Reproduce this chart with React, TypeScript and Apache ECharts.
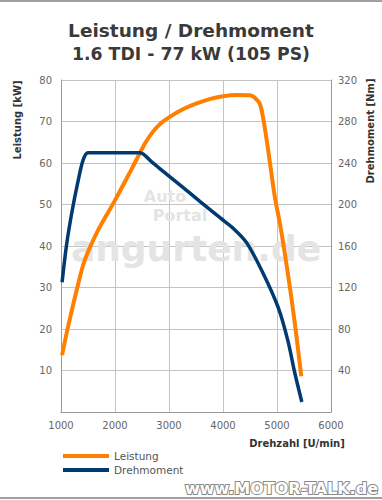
import React, { useEffect, useRef } from "react";
import * as echarts from "echarts";

const rpmTicks = [1000, 2000, 3000, 4000, 5000, 6000];
const kwTicks = [0, 10, 20, 30, 40, 50, 60, 70, 80];
const nmTicks = [0, 40, 80, 120, 160, 200, 240, 280, 320];

const leistungRpm = [1020, 1130, 1300, 1440, 1690, 2000, 2310, 2560, 2700, 2850, 3000, 3250, 3500, 3750, 4000, 4250, 4500, 4600, 4690, 4780, 4870, 4960, 5060, 5200, 5330, 5450];
const leistungKw = [13.7, 20.5, 29.9, 36.6, 43.9, 51, 58.6, 64.8, 67.5, 69.6, 71, 72.9, 74.3, 75.4, 76.1, 76.4, 76.3, 75.6, 74, 68, 60, 51.8, 45, 33.5, 21.4, 8.6];

const drehRpm = [1020, 1100, 1200, 1310, 1410, 1500, 2000, 2460, 2680, 2960, 3270, 3570, 3950, 4190, 4440, 4740, 5020, 5200, 5330, 5460];
const drehNm = [125, 160, 192, 221, 243, 250, 250, 250, 241, 229, 216, 203, 187, 177, 163, 134, 101, 69, 37.6, 9.6];

const FONT = "DejaVu Sans";

export default function App() {
  const ref = useRef<HTMLDivElement>(null);
  useEffect(() => {
    const chart = echarts.init(ref.current!, null, { renderer: "svg" });
    const axisLabel = { color: "#666", fontSize: 10, fontFamily: FONT };
    const wm = (text: string, x: number, y: number, size: number) => ({
      type: "text",
      x,
      y,
      z: 1,
      silent: true,
      style: {
        text,
        fill: "#e4e4e4",
        font: `bold ${size}px ${FONT}`,
        textAlign: "center",
        textVerticalAlign: "middle",
      },
    });
    chart.setOption({
      animation: false,
      backgroundColor: "#fff",
      textStyle: { fontFamily: FONT },
      title: [
        {
          text: "Leistung / Drehmoment",
          left: "center",
          top: 16,
          textStyle: { fontFamily: FONT, fontWeight: "bold", fontSize: 18.5, color: "#3a3a3a" },
        },
        {
          text: "1.6 TDI - 77 kW (105 PS)",
          left: "center",
          top: 40,
          textStyle: { fontFamily: FONT, fontWeight: "bold", fontSize: 17.3, color: "#3a3a3a" },
        },
      ],
      legend: {
        orient: "vertical",
        left: 58,
        top: 445,
        itemWidth: 46,
        itemHeight: 4,
        itemGap: 2,
        icon: "rect",
        textStyle: { fontFamily: FONT, fontSize: 10.5, color: "#555", lineHeight: 12 },
        data: ["Leistung", "Drehmoment"],
      },
      grid: { left: 61, right: 51, top: 80, bottom: 88 },
      xAxis: {
        type: "value",
        min: rpmTicks[0],
        max: rpmTicks[rpmTicks.length - 1],
        interval: 1000,
        axisLine: { show: true, lineStyle: { color: "#999", width: 1 } },
        axisTick: { show: false },
        axisLabel: { ...axisLabel, margin: 8, formatter: (v: number) => String(v) },
        splitLine: { show: true, lineStyle: { color: "#c4c4c4", width: 1 } },
      },
      yAxis: [
        {
          type: "value",
          min: kwTicks[0],
          max: kwTicks[kwTicks.length - 1],
          interval: 10,
          position: "left",
          axisLine: { show: true, lineStyle: { color: "#999", width: 1 } },
          axisTick: { show: false },
          axisLabel: { ...axisLabel, margin: 9, formatter: (v: number) => (v === 0 ? "" : String(v)) },
          splitLine: { show: true, lineStyle: { color: "#c4c4c4", width: 1 } },
        },
        {
          type: "value",
          min: nmTicks[0],
          max: nmTicks[nmTicks.length - 1],
          interval: 40,
          position: "right",
          axisLine: { show: true, lineStyle: { color: "#999", width: 1 } },
          axisTick: { show: false },
          axisLabel: { ...axisLabel, margin: 7, formatter: (v: number) => (v === 0 ? "" : String(v)) },
          splitLine: { show: false },
        },
      ],
      series: [
        {
          name: "Leistung",
          type: "line",
          yAxisIndex: 0,
          smooth: 0.3,
          showSymbol: false,
          symbol: "none",
          color: "#ff8000",
          lineStyle: { color: "#ff8000", width: 4 },
          data: leistungRpm.map((r, i) => [r, leistungKw[i]]),
          z: 3,
        },
        {
          name: "Drehmoment",
          type: "line",
          yAxisIndex: 1,
          smooth: 0.3,
          showSymbol: false,
          symbol: "none",
          color: "#003a70",
          lineStyle: { color: "#003a70", width: 3.5 },
          data: drehRpm.map((r, i) => [r, drehNm[i]]),
          z: 4,
        },
      ],
      graphic: [
        wm("Auto", 165, 196, 16),
        wm("Portal", 180, 215, 16),
        wm("angurten.de", 196, 248, 36),
        {
          type: "text",
          x: 17,
          y: 120,
          rotation: Math.PI / 2,
          style: {
            text: "Leistung [kW]",
            fill: "#333",
            font: `bold 10px ${FONT}`,
            textAlign: "center",
            textVerticalAlign: "middle",
          },
        },
        {
          type: "text",
          x: 370,
          y: 131,
          rotation: Math.PI / 2,
          style: {
            text: "Drehmoment [Nm]",
            fill: "#333",
            font: `bold 10px ${FONT}`,
            textAlign: "center",
            textVerticalAlign: "middle",
          },
        },
        {
          type: "text",
          x: 297,
          y: 443,
          style: {
            text: "Drehzahl [U/min]",
            fill: "#333",
            font: `bold 10px ${FONT}`,
            textAlign: "center",
            textVerticalAlign: "middle",
          },
        },
        {
          type: "text",
          x: 378,
          y: 488,
          style: {
            text: "www.MOTOR-TALK.de",
            fill: "#ffffff",
            stroke: "#8a8a8a",
            lineWidth: 2,
            font: `bold 16px ${FONT}`,
            textAlign: "right",
            textVerticalAlign: "middle",
          },
        },
        {
          type: "rect",
          shape: { x: 0, y: 0, width: 382, height: 2 },
          style: { fill: "#a0a0a0" },
        },
        {
          type: "rect",
          shape: { x: 0, y: 497, width: 382, height: 2 },
          style: { fill: "#a0a0a0" },
        },
      ],
    });
    return () => chart.dispose();
  }, []);
  return (
    <div
      ref={ref}
      style={{ position: "absolute", left: 0, top: 0, width: 382, height: 500 }}
    />
  );
}
